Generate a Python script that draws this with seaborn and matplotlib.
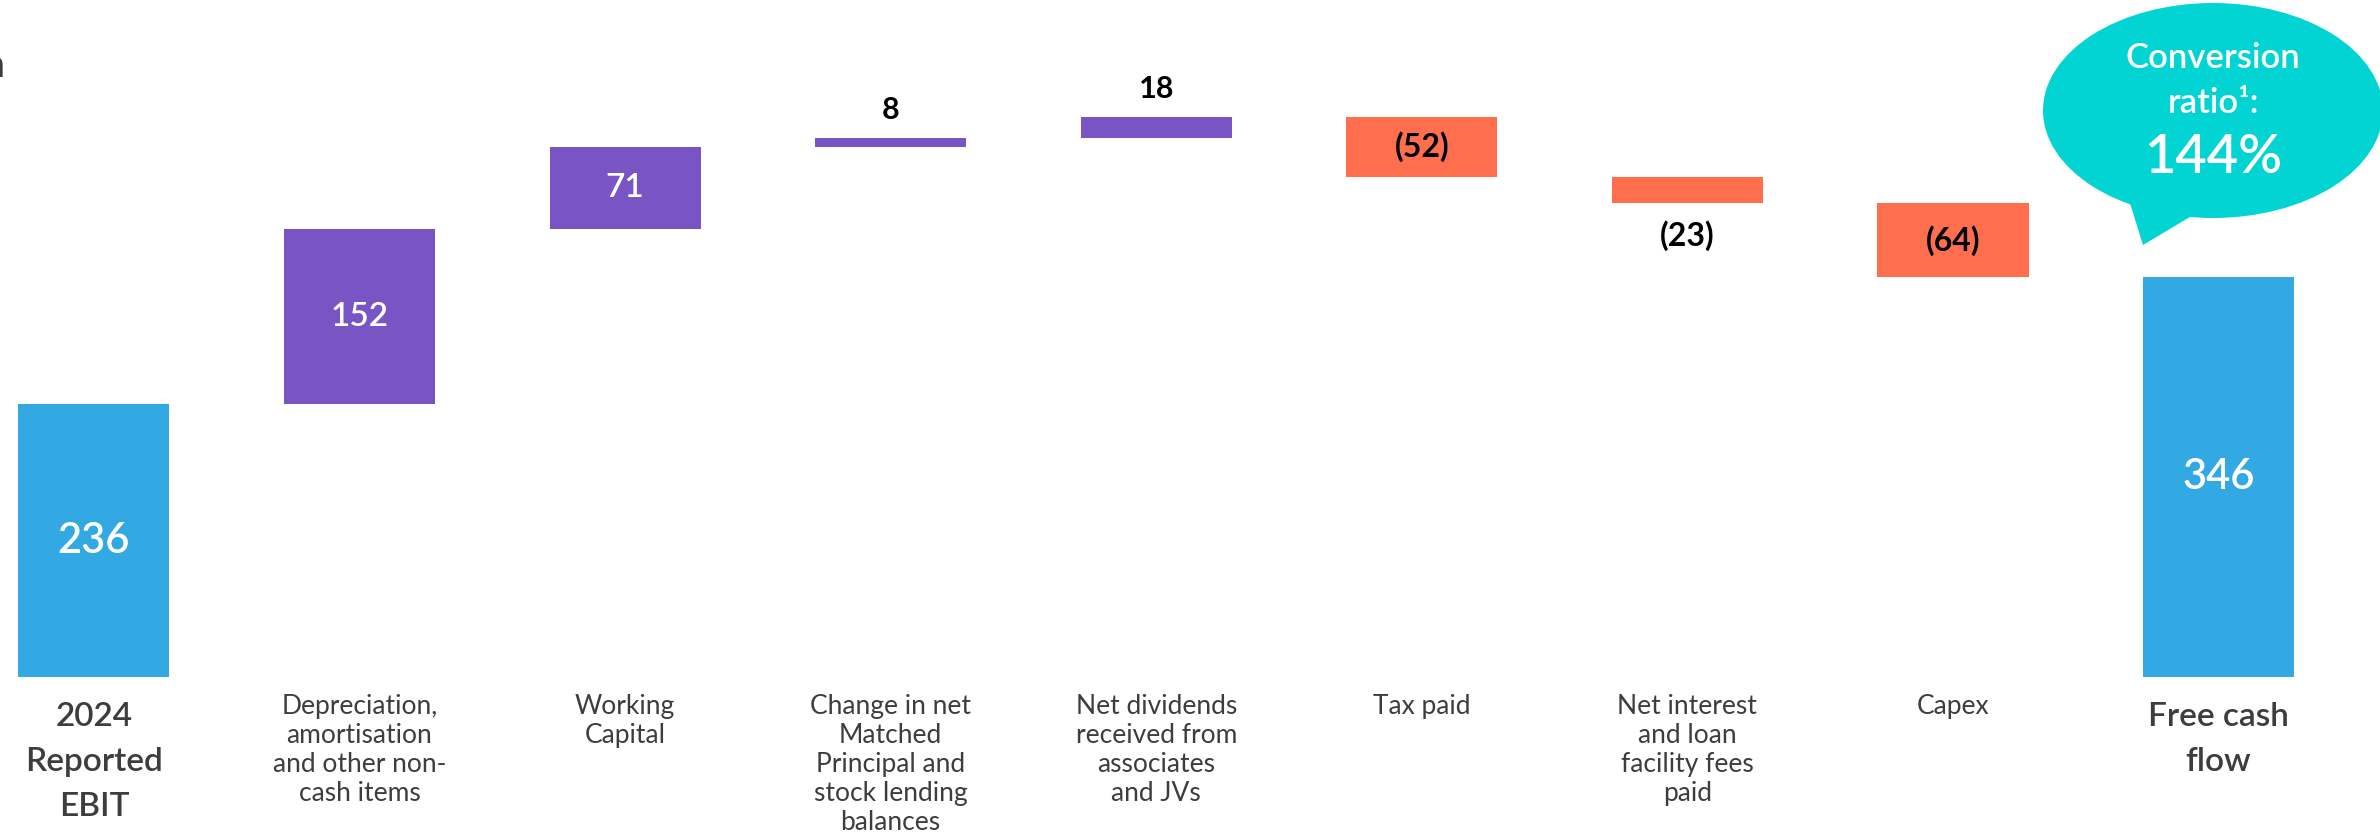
import matplotlib
matplotlib.use("Agg")
import matplotlib.pyplot as plt
import seaborn as sns
import pandas as pd
from matplotlib.patches import Ellipse, Polygon

# ---------------- data ----------------
categories = [
    "2024\nReported\nEBIT",
    "Depreciation,\namortisation\nand other non-\ncash items",
    "Working\nCapital",
    "Change in net\nMatched\nPrincipal and\nstock lending\nbalances",
    "Net dividends\nreceived from\nassociates\nand JVs",
    "Tax paid",
    "Net interest\nand loan\nfacility fees\npaid",
    "Capex",
    "Free cash\nflow",
]
values = [236, 152, 71, 8, 18, -52, -23, -64, 346]
kinds = ["total", "up", "up", "up", "up", "down", "down", "down", "total"]
value_labels = ["236", "152", "71", "8", "18", "(52)", "(23)", "(64)", "346"]
bubble_lines = ["Conversion", "ratio\u00b9:", "144%"]
unit_label = "\u00a3m"

# ---------------- styles ----------------
W, H = 2380, 836
colors = {"total": "#33A9E3", "up": "#7954C5", "down": "#FF6F4D"}
teal = "#02D4D3"
label_gray = "#3D3D3D"
FONT = ["Lato", "DejaVu Sans"]

sns.set_theme(style="white")
plt.rcParams["font.family"] = FONT

# waterfall geometry from values
bottoms, heights = [], []
running = 0
for v, k in zip(values, kinds):
    if k == "total":
        bottoms.append(0)
        heights.append(v)
        running = v
    elif v >= 0:
        bottoms.append(running)
        heights.append(v)
        running += v
    else:
        running += v
        bottoms.append(running)
        heights.append(-v)

df = pd.DataFrame({"category": categories, "height": heights})
palette = {c: colors[k] for c, k in zip(categories, kinds)}

fig = plt.figure(figsize=(W / 100, H / 100), dpi=100)
ax = fig.add_axes([0, 0, 1, 1])
sns.barplot(data=df, x="category", y="height", hue="category", order=categories,
            hue_order=categories, palette=palette, width=0.569, saturation=1,
            legend=False, ax=ax)

patches = sorted(ax.patches, key=lambda p: p.get_x())
for p, b in zip(patches, bottoms):
    p.set_y(b)
    p.set_linewidth(0)

ax.set_xlim(-0.3536, 8.608)
ax.set_ylim(-137.7, 586.1)
ax.axis("off")

px_per_unit = H / (586.1 + 137.7)

# value labels
for i, (b, h, k, lab) in enumerate(zip(bottoms, heights, kinds, value_labels)):
    hpx = h * px_per_unit
    if hpx < 40:
        if k == "down":
            ax.annotate(lab, (i, b), xytext=(0, -23.5), textcoords="offset points",
                        ha="center", va="center", fontsize=23, fontweight="bold",
                        color="black")
        else:
            ax.annotate(lab, (i, b + h), xytext=(0, 20), textcoords="offset points",
                        ha="center", va="center", fontsize=22, fontweight="bold",
                        color="black")
    else:
        if k == "down":
            col, fs, fw = "black", 23, "bold"
        elif k == "total":
            col, fs, fw = "white", 30, "semibold"
        else:
            col, fs, fw = "white", 24, "semibold"
        ax.text(i, b + h / 2, lab, ha="center", va="center", fontsize=fs,
                fontweight=fw, color=col)

# category labels
trans = ax.get_xaxis_transform()
for i, (c, k) in enumerate(zip(categories, kinds)):
    if k == "total":
        ax.text(i, 1 - 702 / H, c, transform=trans, ha="center", va="top",
                fontsize=24, fontweight="semibold", color=label_gray,
                linespacing=1.62, multialignment="center")
    else:
        ax.text(i, 1 - 694 / H, c, transform=trans, ha="center", va="top",
                fontsize=19, color=label_gray, linespacing=1.2,
                multialignment="center")

# speech bubble
def ax_pt(x, y):
    return (x / W, 1 - y / H)

tail = Polygon([ax_pt(2129, 200), ax_pt(2143, 245), ax_pt(2195, 214)],
               closed=True, transform=ax.transAxes, facecolor=teal,
               edgecolor="none", zorder=5)
ax.add_patch(tail)
bubble = Ellipse(ax_pt(2213, 110.5), 340 / W, 215 / H, transform=ax.transAxes,
                 facecolor=teal, edgecolor="none", zorder=5)
ax.add_patch(bubble)
for line, yb, fs in zip(bubble_lines, [68, 113, 173], [25, 25, 39]):
    ax.text(*ax_pt(2213, yb), line, transform=ax.transAxes, ha="center",
            va="baseline", fontsize=fs, fontweight="semibold", color="white", zorder=6)

# cut-off unit label at top-left (only its right edge shows, as in the source)
ax.text(*ax_pt(5, 77), unit_label, transform=ax.transAxes, ha="right",
        va="baseline", fontsize=27, fontweight="semibold", color=label_gray)

fig.savefig("out.png", dpi=100)
